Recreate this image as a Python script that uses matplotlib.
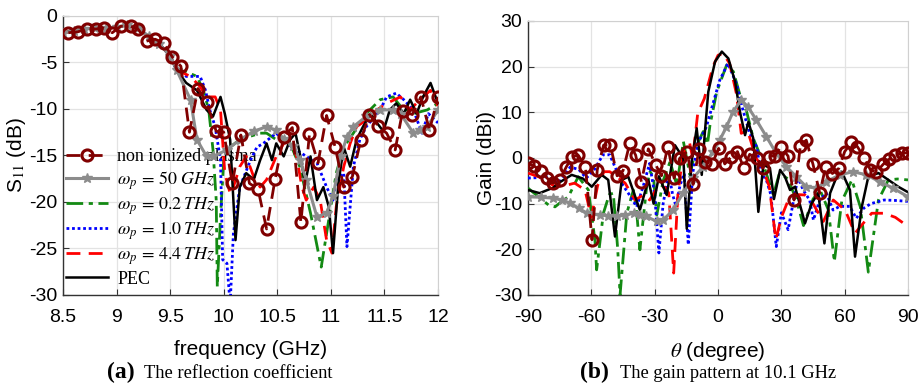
import matplotlib
matplotlib.use("Agg")
import matplotlib.pyplot as plt

plt.rcParams['mathtext.fontset'] = 'stix'
plt.rcParams['axes.unicode_minus'] = False
TICK_FONT = ['Liberation Sans Narrow', 'Liberation Sans', 'DejaVu Sans']
SERIF = ['Liberation Serif', 'DejaVu Serif']

# ---------------- (a) reflection coefficient ----------------
head_f = [8.5, 8.6, 8.7, 8.8, 8.9, 9.0, 9.1, 9.2, 9.3, 9.4, 9.5]
head_db = [-1.8, -1.6, -1.4, -1.3, -1.3, -1.2, -1.0, -1.3, -2.2, -3.0, -4.3]

plasma_f = [8.55, 8.64, 8.72, 8.81, 8.88, 8.96, 9.04, 9.13, 9.2, 9.28, 9.36,
            9.44, 9.52, 9.6, 9.68, 9.76, 9.84, 9.93, 10.0, 10.08, 10.16, 10.24,
            10.32, 10.4, 10.48, 10.56, 10.64, 10.72, 10.8, 10.88, 10.96, 11.04,
            11.12, 11.2, 11.28, 11.36, 11.44, 11.52, 11.6, 11.67, 11.76, 11.84,
            11.92, 12.0]
plasma_db = [-1.8, -1.7, -1.4, -1.4, -1.3, -1.8, -1.1, -1.1, -1.4, -2.7, -2.5,
             -2.9, -4.4, -5.4, -12.5, -7.8, -9.3, -12.4, -12.5, -18.0, -12.8,
             -18.0, -18.6, -22.9, -17.5, -13.0, -12.0, -22.2, -12.7, -15.8,
             -10.7, -14.1, -18.4, -17.3, -13.3, -10.6, -11.8, -12.6, -14.4,
             -10.2, -10.6, -8.7, -12.3, -8.7]

wp50_f = [9.56, 9.69, 9.75, 9.84, 9.9, 10.03, 10.15, 10.28, 10.4, 10.49, 10.56,
          10.65, 10.71, 10.77, 10.87, 10.96, 11.02, 11.09, 11.15, 11.21, 11.33,
          11.46, 11.58, 11.65, 11.77, 11.83, 11.9, 12.0]
wp50_db = [-5.8, -9.0, -13.3, -15.1, -15.1, -14.4, -13.3, -12.4, -11.9, -12.3,
           -13.2, -14.0, -15.5, -17.6, -21.6, -21.2, -19.4, -15.1, -13.0, -11.9,
           -10.8, -10.1, -10.1, -10.5, -12.6, -12.3, -11.9, -10.1]

wp02_f = [9.56, 9.65, 9.75, 9.81, 9.86, 9.9, 9.93, 9.94, 9.97, 10.0, 10.06,
          10.15, 10.34, 10.4, 10.49, 10.62, 10.71, 10.81, 10.91, 10.99, 11.05,
          11.12, 11.21, 11.33, 11.46, 11.58, 11.65, 11.77, 11.9, 12.0]
wp02_db = [-5.8, -6.0, -6.5, -8.0, -10.1, -14.4, -19.8, -29.1, -21.6, -15.5,
           -14.1, -13.3, -12.6, -12.6, -13.3, -13.7, -16.2, -21.2, -27.0, -21.2,
           -16.9, -14.1, -12.6, -10.5, -9.0, -8.7, -9.7, -10.5, -10.1, -9.4]

wp10_f = [9.56, 9.65, 9.78, 9.83, 9.87, 9.92, 9.97, 9.99, 10.03, 10.06, 10.09,
          10.15, 10.25, 10.31, 10.37, 10.49, 10.59, 10.68, 10.77, 10.87, 10.96,
          11.02, 11.05, 11.12, 11.15, 11.21, 11.27, 11.33, 11.46, 11.52, 11.61,
          11.68, 11.77, 11.85, 11.91, 12.0]
wp10_db = [-5.8, -6.5, -6.5, -8.0, -10.1, -11.9, -15.5, -26.2, -26.6, -31.0,
           -23.4, -18.4, -15.5, -14.1, -13.7, -12.6, -13.7, -14.4, -15.1, -15.8,
           -18.4, -19.8, -17.6, -16.9, -24.8, -16.2, -13.3, -11.9, -10.1, -8.7,
           -8.3, -9.0, -10.1, -12.6, -10.5, -11.5]

wp44_f = [9.56, 9.69, 9.78, 9.84, 9.92, 9.97, 10.01, 10.06, 10.09, 10.15, 10.21,
          10.28, 10.34, 10.4, 10.49, 10.56, 10.62, 10.68, 10.73, 10.77, 10.84,
          10.9, 10.96, 11.01, 11.05, 11.12, 11.18, 11.24, 11.33, 11.43, 11.52,
          11.65, 11.74, 11.83, 11.93, 12.0]
wp44_db = [-5.8, -6.5, -7.6, -8.7, -8.7, -10.1, -16.9, -19.1, -18.4, -16.2,
           -15.1, -17.3, -18.4, -17.6, -15.1, -13.7, -13.3, -15.1, -18.4, -19.8,
           -18.4, -19.8, -24.1, -25.5, -20.5, -16.2, -13.7, -11.9, -11.2, -10.1,
           -9.4, -8.7, -10.1, -9.0, -8.0, -9.7]

pec_f = [9.56, 9.65, 9.75, 9.84, 9.9, 9.97, 10.01, 10.06, 10.11, 10.15, 10.21,
         10.28, 10.34, 10.4, 10.45, 10.49, 10.56, 10.62, 10.67, 10.71, 10.76,
         10.81, 10.87, 10.93, 10.98, 11.02, 11.07, 11.12, 11.18, 11.24, 11.3,
         11.37, 11.43, 11.49, 11.55, 11.61, 11.68, 11.74, 11.8, 11.86, 11.93,
         12.0]
pec_db = [-5.8, -7.2, -8.0, -10.1, -10.8, -8.7, -10.5, -13.3, -24.1, -18.4,
          -16.9, -17.6, -15.5, -13.7, -15.5, -13.7, -15.1, -13.3, -12.6, -14.8,
          -18.0, -15.1, -19.8, -18.4, -20.5, -25.5, -18.0, -14.1, -16.2, -13.3,
          -11.9, -10.5, -11.5, -12.4, -10.1, -9.4, -10.5, -9.0, -10.5, -8.7,
          -7.2, -9.4]

freq_ticks = [8.5, 9, 9.5, 10, 10.5, 11, 11.5, 12]
freq_labels = ['8.5', '9', '9.5', '10', '10.5', '11', '11.5', '12']
s11_ticks = [0, -5, -10, -15, -20, -25, -30]

# ---------------- (b) gain pattern ----------------
pl_th = [-90, -87.3, -84, -81, -78.2, -75, -71.8, -69, -66.2, -62.8, -59.7,
         -57.2, -54.2, -51, -47.8, -45, -41.8, -39, -36.3, -33, -29.5, -26.8,
         -23.8, -20.8, -18.2, -14.7, -11.8, -9, -6, -2.8, 0.3, 3.2, 6.3, 9.2,
         12.2, 15, 18.5, 21.3, 24, 27, 29.8, 33.2, 36, 39, 41.8, 45, 48.2, 51,
         54.2, 57.2, 60, 63.2, 66, 69.2, 72.2, 75, 78.2, 81, 84, 87.2, 90]
pl_gain = [-1.2, -1.7, -2.8, -4.4, -5.5, -4.8, -1.9, 0.3, 0.6, -1.9, -17.9,
           -2.6, 2.8, 2.9, -3.9, -2.8, 3.2, 0.6, -5.2, 2.0, -1.5, -3.9, 2.5,
           -4.4, -0.1, 1.4, -5.8, 2.0, -0.8, -1.3, 2.1, -1.3, 0.3, 1.4, -2.2,
           0.8, -0.1, -2.2, 0.3, 0.5, 2.5, 0.4, -9.2, 2.7, 3.9, -1.4, -7.7,
           -1.9, -3.4, -2.3, 1.4, 3.4, 2.5, 0.1, -2.6, -3.1, -1.4, -0.3, 0.7,
           1.0, 1.2]

g50_th = [-90, -84, -78, -74, -70, -66, -62, -56, -52, -48, -44, -40, -37, -34,
          -29, -26, -21.3, -16.6, -11.8, -7.1, -2.4, 0.8, 4, 7.1, 11, 14.2,
          18.2, 22.9, 27.6, 32.4, 37.1, 41.8, 46.6, 51.3, 57.6, 64, 70.3, 76.6,
          82.9, 90]
g50_gain = [-8.5, -8.6, -8.8, -9.2, -9.9, -11.0, -12.1, -12.5, -12.6, -12.8,
            -12.5, -12.1, -12.4, -12.8, -13.9, -13.6, -11.4, -7.7, -4.4, -1.9,
            1.4, 3.9, 6.8, 10.1, 12.7, 11.2, 8.3, 4.7, 1.0, -1.9, -4.1, -6.3,
            -6.6, -5.2, -3.7, -3.0, -3.7, -5.2, -6.6, -8.5]

g02_th = [-90, -85, -80, -77.2, -74, -70.9, -66.2, -61.4, -58.3, -57.5, -54.3,
          -51.5, -49.6, -47.5, -46.4, -43.2, -40.1, -38.5, -37, -33.8, -32.2,
          -30.6, -29, -26, -22.7, -19.5, -16.4, -13.3, -10.1, -7, -5, -3.8,
          -0.6, 4.1, 7.3, 10.4, 13.6, 16.7, 19.9, 23.1, 26.2, 29, 33, 37, 40.5,
          45, 48.3, 52.3, 55.1, 58.6, 63.4, 67.4, 71.2, 76, 80.7, 85, 90]
g02_gain = [-6.6, -8.5, -10.4, -10.7, -9.5, -8.5, -4.1, -7.0, -18.0, -24.5,
            -12.1, -8.0, -7.7, -20.0, -30.0, -12.1, -7.0, -12.0, -20.1, -6.3,
            -3.0, -4.1, -12.5, -5.0, -0.8, -6.0, 3.6, -3.7, 2.8, 5.8, 3.0, 7.2,
            14.5, 20.4, 18.9, 13.8, 10.1, 4.3, 0.7, -3.7, -8.1, -3.5, -4.5,
            -9.0, -14.8, -9.0, -7.0, -11.4, -22.7, -9.5, -4.8, -10.7, -25.0,
            -9.2, -4.8, -4.6, -4.8]

g10_th = [-90, -85, -81.3, -75.6, -70, -66, -62.4, -58.5, -54.5, -51.3, -48.2,
          -45, -42.5, -38.5, -35.5, -32.4, -30, -28, -26, -23.3, -21.5, -19.9,
          -18, -16, -14.1, -12, -9.6, -5.5, -2.4, 0.8, 4.7, 8.7, 11.8, 15,
          18.2, 20.5, 22.9, 25, 27.6, 30, 33.2, 35.5, 37.9, 40.3, 43.4, 45.2,
          48.2, 51.3, 54.5, 57.6, 62.4, 65.5, 69, 72.4, 78.7, 84, 90]
g10_gain = [-4.4, -4.3, -4.1, -5.5, -2.0, -2.5, -4.4, -2.5, 0.7, 0.7, -2.6,
            -6.0, -7.7, -10.7, -6.3, -1.2, -8.0, -20.8, -10.0, -3.4, -8.0,
            -10.6, -6.0, -3.4, -19.0, -3.4, 3.2, 6.8, 11.9, 17.0, 20.7, 16.3,
            10.5, 5.4, 2.5, -3.4, -4.8, -8.0, -19.4, -12.0, -15.7, -10.0, -4.1,
            -7.0, -9.2, -13.6, -9.2, -7.7, -11.4, -10.6, -10.6, -13.2, -11.0,
            -10.0, -9.2, -9.3, -9.5]

g44_th = [-90, -85, -77, -72, -67.9, -63, -60, -57, -54, -51.3, -48.2, -44,
          -39.3, -35, -32.4, -28, -25, -23.3, -21, -19, -16.6, -13.4, -12,
          -9.6, -6.5, -2.4, 0, 2.4, 5.5, 8.7, 11, 14, 18, 21, 24.3, 27.4, 30,
          33.3, 37, 41.2, 45, 49.9, 54.6, 60.2, 64.9, 67.5, 72.8, 78.7, 84, 90]
g44_gain = [-3.3, -4.1, -6.3, -6.0, -5.5, -7.0, -13.0, -6.0, -3.0, -3.0, -4.0,
            -5.5, -9.2, -8.0, -9.2, -6.0, -6.5, -7.7, -25.2, -8.0, 1.0, 3.2,
            0.0, 9.8, 13.0, 20.0, 22.5, 22.9, 20.7, 14.1, 5.4, 6.0, 0.0, -2.0,
            -6.3, -17.9, -13.0, -9.2, -8.0, -8.1, -10.0, -13.9, -9.2, -11.4,
            -16.5, -15.0, -12.1, -12.1, -13.0, -15.0]

gpec_th = [-90, -84.5, -78, -75.6, -69.3, -64, -59.8, -55.1, -52, -48.8, -45.6,
           -42.5, -37, -33, -30.5, -28, -24.3, -20.4, -16.4, -14.8, -12.5,
           -10.1, -7.7, -6.2, -4.6, -1.4, 1.8, 4.9, 8.1, 10.4, 12.8, 14.4,
           16.7, 19.1, 21.5, 24.6, 26.5, 29.4, 31.7, 34.1, 36.5, 41.2, 44.4,
           47.5, 50.4, 53.1, 56.2, 58.6, 62.5, 64.9, 68.1, 71.2, 76, 80.7,
           85.4, 90]
gpec_gain = [-7.0, -7.7, -6.5, -5.5, -3.7, -4.5, -6.3, -3.7, -4.8, -17.2,
             -4.8, -4.1, -11.4, -4.8, -10.0, -4.0, -8.1, 2.8, -0.1, -15.5,
             -0.8, 6.5, -3.7, 5.8, 14.5, 21.1, 23.3, 21.8, 16.7, 10.1, 5.0,
             7.9, 4.3, -11.8, -1.5, -2.2, -9.0, -2.6, -4.1, -7.0, -6.3, -14.3,
             -9.9, -7.7, -18.7, -7.7, -4.1, -3.0, -7.0, -21.6, -10.7, -4.1,
             -3.3, -4.8, -6.3, -7.5]

theta_ticks = [-90, -60, -30, 0, 30, 60, 90]
gain_ticks = [-30, -20, -10, 0, 10, 20, 30]

# ---------------- styles ----------------
DARKRED = '#800000'
GRAY = '#8c8c8c'
GREEN = '#138a13'
BLUE = '#0000ff'
RED = '#ff0000'

fig = plt.figure(figsize=(9.21, 3.83), dpi=100)
ax1 = fig.add_axes([0.0684, 0.2298, 0.4072, 0.7285])
ax2 = fig.add_axes([0.5733, 0.2298, 0.4126, 0.7154])


def style_axes(ax):
    ax.grid(True, color='#e3e3e3', lw=0.9)
    ax.set_axisbelow(True)
    for s in ('top', 'right'):
        ax.spines[s].set_color('#d0d0d0')
    for s in ('left', 'bottom'):
        ax.spines[s].set_color('#333333')
        ax.spines[s].set_linewidth(1.0)
    ax.tick_params(direction='in', length=4, width=0.8, color='#333333',
                   top=False, right=False, labelsize=14)
    ax.tick_params(axis='x', pad=10)
    ax.tick_params(axis='y', pad=4)
    for lab in ax.get_xticklabels() + ax.get_yticklabels():
        lab.set_family(TICK_FONT)


def draw(ax, x1, y1, x2, y2, x3, y3, x4, y4, x5, y5, x6, y6):
    ax.plot(x1, y1, color=DARKRED, lw=2, ls=(0, (5, 3)), marker='o', ms=8,
            mfc='none', mew=2.2, label='non ionized plasma', zorder=6)
    ax.plot(x2, y2, color=GRAY, lw=2.2, marker='*', ms=7, mew=1,
            label=r'$\omega_p\, =\, 50\ GHz$', zorder=5)
    ax.plot(x3, y3, color=GREEN, lw=2, ls=(0, (6, 2, 1.5, 2)),
            label=r'$\omega_p\, =\, 0.2\, THz$', zorder=3)
    ax.plot(x4, y4, color=BLUE, lw=2, ls=(0, (1, 1)),
            label=r'$\omega_p\, =\, 1.0\, THz$', zorder=3)
    ax.plot(x5, y5, color=RED, lw=2, ls=(0, (5, 3)),
            label=r'$\omega_p\, =\, 4.4\, THz$', zorder=4)
    ax.plot(x6, y6, color='black', lw=1.8, label='PEC', zorder=4)


draw(ax1,
     plasma_f, plasma_db,
     head_f + wp50_f, head_db + wp50_db,
     head_f + wp02_f, head_db + wp02_db,
     head_f + wp10_f, head_db + wp10_db,
     head_f + wp44_f, head_db + wp44_db,
     head_f + pec_f, head_db + pec_db)
ax1.set_xlim(8.5, 12)
ax1.set_ylim(-30, 0)
ax1.set_xticks(freq_ticks)
ax1.set_xticklabels(freq_labels)
ax1.set_yticks(s11_ticks)
style_axes(ax1)
ax1.set_xlabel('frequency (GHz)', family=TICK_FONT, fontsize=15, labelpad=10)
ax1.set_ylabel(r'S$_{11}$ (dB)', family=TICK_FONT, fontsize=15, labelpad=1)

leg = ax1.legend(loc='lower left', bbox_to_anchor=(-0.01, 0.0), frameon=False,
                 prop={'family': SERIF, 'size': 13}, handlelength=2.3,
                 handletextpad=0.5, labelspacing=0.2, borderpad=0.3,
                 borderaxespad=0.1)
leg.set_zorder(2)

draw(ax2,
     pl_th, pl_gain,
     g50_th, g50_gain,
     g02_th, g02_gain,
     g10_th, g10_gain,
     g44_th, g44_gain,
     gpec_th, gpec_gain)
ax2.set_xlim(-90, 90)
ax2.set_ylim(-30, 30)
ax2.set_xticks(theta_ticks)
ax2.set_yticks(gain_ticks)
style_axes(ax2)
ax2.set_xlabel(r'$\theta$ (degree)', family=TICK_FONT, fontsize=15, labelpad=10)
ax2.set_ylabel('Gain (dBi)', family=TICK_FONT, fontsize=15, labelpad=-1)

# sub-figure captions
yb = 0.014
fig.text(107 / 921, yb, '(a)', family=SERIF, fontsize=17, weight='bold',
         va='baseline', ha='left')
fig.text(144 / 921, yb, 'The reflection coefficient', family=SERIF,
         fontsize=13.3, va='baseline', ha='left')
fig.text(580 / 921, yb, '(b)', family=SERIF, fontsize=17, weight='bold',
         va='baseline', ha='left')
fig.text(620 / 921, yb, 'The gain pattern at 10.1 GHz', family=SERIF,
         fontsize=13.3, va='baseline', ha='left')

fig.savefig('out.png', dpi=100)
